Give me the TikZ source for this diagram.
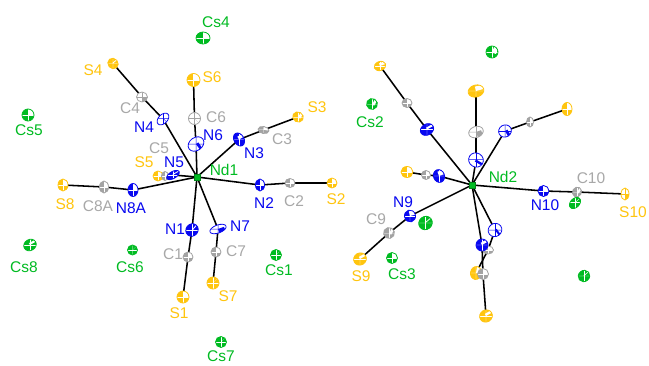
\documentclass[tikz,border=0pt]{standalone}
\usepackage{fontspec}
\setmainfont{Liberation Sans}
\usetikzlibrary{shapes.geometric,backgrounds}
\definecolor{cg}{HTML}{00BB22}
\definecolor{cy}{HTML}{FFC50F}
\definecolor{cb}{HTML}{0808F0}
\definecolor{cc}{HTML}{A3A3A3}
\definecolor{lg}{HTML}{A8A8A8}
\tikzset{
 atom/.style n args={4}{ellipse,inner sep=0pt,draw=#1,line width=.8pt,fill=#1,
   minimum width=#2pt,minimum height=#3pt,rotate=#4,
   path picture={
     \fill[white] (path picture bounding box.center) rectangle (path picture bounding box.north east);
     \draw[white,line width=.4pt] (path picture bounding box.west) -- (path picture bounding box.east);
     \draw[white,line width=.4pt] (path picture bounding box.north) -- (path picture bounding box.south);
   }},
 atomopen/.style n args={4}{ellipse,inner sep=0pt,draw=#1,line width=.8pt,fill=white,
   minimum width=#2pt,minimum height=#3pt,rotate=#4,
   path picture={
     \fill[#1] (path picture bounding box.center) rectangle (path picture bounding box.south east);
     \draw[#1,line width=.5pt] (path picture bounding box.west) -- (path picture bounding box.east);
     \draw[#1,line width=.5pt] (path picture bounding box.north) -- (path picture bounding box.south);
   }},
 metal/.style={rectangle,fill=cg,draw=cg!70!black,line width=.3pt,minimum size=6pt,inner sep=0pt},
 bond/.style={line width=1.55pt,black},
 lab/.style={inner sep=0pt,font=\fontsize{15.5}{15.5}\selectfont},
 lcs/.style={lab,text=cg}, lS/.style={lab,text=cy}, lN/.style={lab,text=cb}, lC/.style={lab,text=lg}
}
\begin{document}
\begin{tikzpicture}[x=1pt,y=-1pt]
\useasboundingbox (0,0) rectangle (649,365);
% left anion
\node[metal] (Nd1) at (197,177) {};
\node[atom={cy}{12}{12}{0}] (S1) at (183,297) {};
\node[atom={cc}{10}{10}{-90}] (C1) at (188,257) {};
\node[atom={cb}{12}{13}{-40}] (N1) at (192,230) {};
\node[atom={cy}{10}{10}{180}] (S2) at (332,183) {};
\node[atom={cc}{9}{10}{90}] (C2) at (290,183) {};
\node[atom={cb}{9}{12}{0}] (N2) at (260,185) {};
\node[atom={cy}{11}{10}{150}] (S3) at (298,117) {};
\node[atom={cc}{11}{7}{-10}] (C3) at (263.5,130) {};
\node[atom={cb}{14}{10}{-60}] (N3) at (239,139.5) {};
\node[atom={cy}{11}{10}{130}] (S4) at (113,63.5) {};
\node[atomopen={cc}{11}{10}{0}] (C4) at (142,97) {};
\node[atomopen={cb}{14}{9}{45}] (N4) at (163,119) {};
\node[atom={cy}{10}{10}{180}] (S5) at (158,176) {};
\node[atom={cc}{7}{9}{0}] (C5) at (165,176) {};
\node[atom={cb}{14}{7}{30}] (N5) at (173,175) {};
\node[atom={cy}{13}{13}{0}] (S6) at (193.5,80) {};
\node[atomopen={cc}{12}{12}{45}] (C6) at (194.5,118.5) {};
\node[atomopen={cb}{17}{13}{35}] (N6) at (196,144) {};
\node[atom={cy}{12}{12}{-45}] (S7) at (213,283) {};
\node[atom={cc}{10}{10}{90}] (C7) at (216,252) {};
\node[atomopen={cb}{17}{8}{20}] (N7) at (218,229) {};
\node[atom={cy}{10}{12}{0}] (S8) at (63,185) {};
\node[atom={cc}{9}{12}{0}] (C8A) at (104,187) {};
\node[atom={cb}{10}{13}{0}] (N8A) at (133,190) {};
% right anion
\node[metal] (Nd2) at (472,185) {};
\node[atom={cy}{12}{9}{20}] (Sa) at (380,66) {};
\node[atom={cc}{9}{10}{-90}] (Ca) at (407,103) {};
\node[atom={cb}{14}{11}{30}] (Na) at (427,129.5) {};
\node[atom={cy}{16}{12}{15}] (Sb) at (476,91) {};
\node[atomopen={cc}{15}{11}{20}] (Cb) at (476,132) {};
\node[atomopen={cb}{14}{15}{60}] (Nb) at (476,160) {};
\node[atom={cy}{10}{13}{0}] (Sc) at (567,109) {};
\node[atom={cc}{10}{7}{-90}] (Cc) at (530,122) {};
\node[atomopen={cb}{12}{13}{-60}] (Nc) at (505,131) {};
\node[atom={cy}{11}{12}{-90}] (Sd) at (407,172) {};
\node[atom={cc}{9}{9}{-90}] (Cd) at (426,175) {};
\node[atom={cb}{11}{13}{20}] (Nd) at (439,176) {};
\node[atomopen={cy}{8}{12}{0}] (S10) at (625,194) {};
\node[atom={cc}{10}{9}{-120}] (C10) at (577,192) {};
\node[atom={cb}{11}{11}{0}] (N10) at (543.5,191) {};
\node[atom={cy}{12}{13}{-60}] (S9) at (360,259) {};
\node[atom={cc}{11}{11}{-120}] (C9) at (389,233) {};
\node[atom={cb}{11}{12}{15}] (N9) at (410,216) {};
\node[atom={cy}{13}{11}{-100}] (Se) at (476,273) {};
\node[atom={cc}{8}{11}{-90}] (Ce) at (488,250) {};
\node[atomopen={cb}{14}{13}{35}] (Ne) at (495,230) {};
\node[atom={cy}{13}{12}{-150}] (Sf) at (486,316) {};
\node[atom={cc}{11}{11}{-90}] (Cf) at (483,274) {};
\node[atom={cb}{12}{12}{30}] (Nf) at (482,245) {};
% cesium
\node[atom={cg}{12}{14}{90}] (Cs4) at (203,38) {};
\node[atom={cg}{12}{12}{90}] (Cs5) at (28,115) {};
\node[atom={cg}{13}{11}{-150}] (Cs8) at (30,245) {};
\node[atom={cg}{10}{10}{-135}] (Cs6) at (132.5,250) {};
\node[atom={cg}{11}{11}{-135}] (Cs7) at (221,342) {};
\node[atom={cg}{11}{11}{-135}] (Cs1) at (276,255) {};
\node[atom={cg}{12}{12}{-110}] (Csa) at (492,52) {};
\node[atom={cg}{11}{11}{-120}] (Cs2) at (372,104) {};
\node[atom={cg}{14}{13}{40}] (Csb) at (425.5,223) {};
\node[atom={cg}{11}{11}{-90}] (Cs3) at (392,258) {};
\node[atom={cg}{13}{9}{45}] (Csc) at (575,203) {};
\node[atom={cg}{12}{11}{-140}] (Csd) at (584,276) {};
% bonds
\begin{pgfonlayer}{background}
\fill[white] (0,0) rectangle (649,365);
\draw[bond] (Nd1.center)--(N1.center)--(C1.center)--(S1.center);
\draw[bond] (Nd1.center)--(N2.center)--(C2.center)--(S2.center);
\draw[bond] (Nd1.center)--(N3.center)--(C3.center)--(S3.center);
\draw[bond] (Nd1.center)--(N4.center)--(C4.center)--(S4.center);
\draw[bond] (Nd1.center)--(N5.center)--(C5.center)--(S5.center);
\draw[bond] (Nd1.center)--(N6.center)--(C6.center)--(S6.center);
\draw[bond] (Nd1.center)--(N7.center)--(C7.center)--(S7.center);
\draw[bond] (Nd1.center)--(N8A.center)--(C8A.center)--(S8.center);
\draw[bond] (Nd2.center)--(Na.center)--(Ca.center)--(Sa.center);
\draw[bond] (Nd2.center)--(Nb.center)--(Cb.center)--(Sb.center);
\draw[bond] (Nd2.center)--(Nc.center)--(Cc.center)--(Sc.center);
\draw[bond] (Nd2.center)--(Nd.center)--(Cd.center)--(Sd.center);
\draw[bond] (Nd2.center)--(N10.center)--(C10.center)--(S10.center);
\draw[bond] (Nd2.center)--(N9.center)--(C9.center)--(S9.center);
\draw[bond] (Nd2.center)--(Ne.center)--(Ce.center)--(Se.center);
\draw[bond] (Nd2.center)--(Nf.center)--(Cf.center)--(Sf.center);
\end{pgfonlayer}
% labels
\node[lab,text=cg] (lNd1) at (224,170) {Nd1};
\node[lab,text=cg] (lNd2) at (503,177) {Nd2};
\node[lcs] (lCs1) at (279,270) {Cs1};
\node[lcs] (lCs2) at (370,122) {Cs2};
\node[lcs] (lCs3) at (402,274) {Cs3};
\node[lcs] (lCs4) at (216,22) {Cs4};
\node[lcs] (lCs5) at (29,130) {Cs5};
\node[lcs] (lCs6) at (130,267) {Cs6};
\node[lcs] (lCs7) at (221,356.5) {Cs7};
\node[lcs] (lCs8) at (24,267) {Cs8};
\node[lS] (lS1) at (179,313) {S1};
\node[lS] (lS2) at (336,199) {S2};
\node[lS] (lS3) at (317,107) {S3};
\node[lS] (lS4) at (93,70) {S4};
\node[lS] (lS5) at (144,162) {S5};
\node[lS] (lS6) at (212,77) {S6};
\node[lS] (lS7) at (228,296) {S7};
\node[lS] (lS8) at (65,204) {S8};
\node[lS] (lS9) at (361,276) {S9};
\node[lS] (lS10) at (633,212) {S10};
\node[lN] (lN1) at (175,229) {N1};
\node[lN] (lN2) at (264,203) {N2};
\node[lN] (lN3) at (254,153) {N3};
\node[lN] (lN4) at (144,127) {N4};
\node[lN] (lN5) at (174,162) {N5};
\node[lN] (lN6) at (213,135) {N6};
\node[lN] (lN7) at (240,226) {N7};
\node[lN] (lN8A) at (131,208) {N8A};
\node[lN] (lN9) at (403,202) {N9};
\node[lN] (lN10) at (545,205) {N10};
\node[lC] (lC1) at (173,254) {C1};
\node[lC] (lC2) at (294,201) {C2};
\node[lC] (lC3) at (282,139) {C3};
\node[lC] (lC4) at (130,108) {C4};
\node[lC] (lC5) at (159,148) {C5};
\node[lC] (lC6) at (216,117) {C6};
\node[lC] (lC7) at (236,251) {C7};
\node[lC] (lC8A) at (98,206) {C8A};
\node[lC] (lC9) at (376,219) {C9};
\node[lC] (lC10) at (591,178) {C10};
\end{tikzpicture}
\end{document}
